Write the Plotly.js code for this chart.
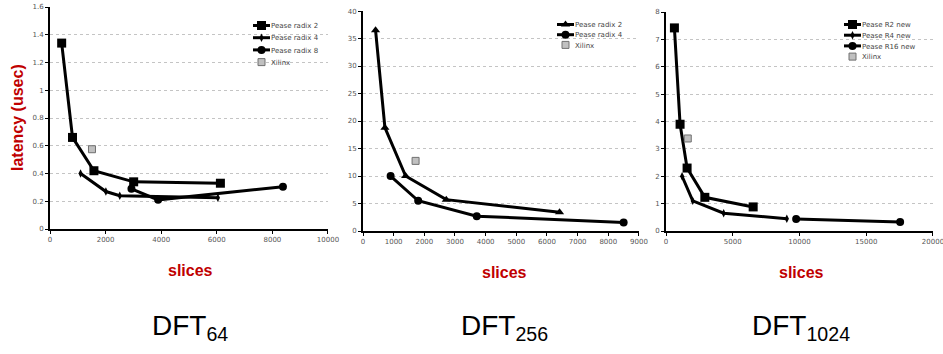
<!DOCTYPE html>
<html><head><meta charset="utf-8">
<script src="https://cdn.plot.ly/plotly-3.0.1.min.js"></script>
<style>html,body{margin:0;padding:0;background:#fff}#chart{width:943px;height:354px}</style>
</head><body><div id="chart"></div>
<script>
// DFT64
const d64_r2_x = [420, 810, 1580, 3010, 6130];
const d64_r2_y = [1.34, 0.66, 0.42, 0.34, 0.33];
const d64_r4_x = [1100, 2010, 2510, 6040];
const d64_r4_y = [0.40, 0.27, 0.24, 0.225];
const d64_r8_x = [2930, 3890, 8380];
const d64_r8_y = [0.29, 0.21, 0.305];
const d64_xil_x = [1510];
const d64_xil_y = [0.575];
// DFT256
const d256_r2_x = [410, 715, 1390, 2715, 6410];
const d256_r2_y = [36.5, 18.8, 10.0, 5.7, 3.4];
const d256_r4_x = [900, 1800, 3710, 8500];
const d256_r4_y = [10.0, 5.5, 2.7, 1.55];
const d256_xil_x = [1715];
const d256_xil_y = [12.75];
// DFT1024
const d1k_r2_x = [630, 1055, 1580, 2910, 6530];
const d1k_r2_y = [7.42, 3.9, 2.3, 1.23, 0.88];
const d1k_r4_x = [1205, 2005, 4320, 9050];
const d1k_r4_y = [2.0, 1.1, 0.65, 0.45];
const d1k_r16_x = [9750, 17540];
const d1k_r16_y = [0.44, 0.33];
const d1k_xil_x = [1630];
const d1k_xil_y = [3.38];

// tick values
const ticks64_x = [0, 2000, 4000, 6000, 8000, 10000];
const ticks256_x = [0, 1000, 2000, 3000, 4000, 5000, 6000, 7000, 8000, 9000];
const ticks1k_x = [0, 5000, 10000, 15000, 20000];

const names64 = ['Pease radix 2', 'Pease radix 4', 'Pease radix 8', 'Xilinx'];
const names256 = ['Pease radix 2', 'Pease radix 4', 'Xilinx'];
const names1k = ['Pease R2 new', 'Pease R4 new', 'Pease R16 new', 'Xilinx'];
const panelTitles = ['DFT<sub>64</sub>', 'DFT<sub>256</sub>', 'DFT<sub>1024</sub>'];

function line(x, y, name, sym, size, xa, ya, lg) {
  return {x, y, name, type: 'scatter', mode: 'lines+markers', xaxis: xa, yaxis: ya, legend: lg,
    line: {color: '#000', width: 3}, marker: {symbol: sym, size: size, color: '#000'}};
}
function xil(x, y, xa, ya, lg) {
  return {x, y, name: 'Xilinx', type: 'scatter', mode: 'markers', xaxis: xa, yaxis: ya, legend: lg,
    marker: {symbol: 'square', size: 7, color: '#c0c0c0', line: {color: '#707070', width: 1}}};
}

const traces = [
  line(d64_r2_x, d64_r2_y, names64[0], 'square', 9, 'x', 'y', 'legend'),
  line(d64_r4_x, d64_r4_y, names64[1], 'diamond-tall', 6, 'x', 'y', 'legend'),
  line(d64_r8_x, d64_r8_y, names64[2], 'circle', 8, 'x', 'y', 'legend'),
  xil(d64_xil_x, d64_xil_y, 'x', 'y', 'legend'),
  line(d256_r2_x, d256_r2_y, names256[0], 'triangle-up', 8, 'x2', 'y2', 'legend2'),
  line(d256_r4_x, d256_r4_y, names256[1], 'circle', 8, 'x2', 'y2', 'legend2'),
  xil(d256_xil_x, d256_xil_y, 'x2', 'y2', 'legend2'),
  line(d1k_r2_x, d1k_r2_y, names1k[0], 'square', 9, 'x3', 'y3', 'legend3'),
  line(d1k_r4_x, d1k_r4_y, names1k[1], 'diamond-tall', 6, 'x3', 'y3', 'legend3'),
  line(d1k_r16_x, d1k_r16_y, names1k[2], 'circle', 8, 'x3', 'y3', 'legend3'),
  xil(d1k_xil_x, d1k_xil_y, 'x3', 'y3', 'legend3')
];

const W = 943, H = 354;
const px = v => v / W, py = v => (H - v) / H;
const tickfont = {family: 'DejaVu Sans', size: 7, color: '#555'};
function xax(l, r, range, tickvals, anchor) {
  return {domain: [px(l), px(r)], range, tickmode: 'array', tickvals, ticktext: tickvals.map(String),
    anchor, showgrid: false, zeroline: false,
    showline: true, linecolor: '#000', linewidth: 2, ticks: 'outside', ticklen: 3, tickcolor: '#000',
    tickfont, ticklabeloverflow: 'allow', fixedrange: true};
}
function yax(b, t, range, dtick, anchor) {
  return {domain: [py(b), py(t)], range, dtick, anchor, showgrid: true, gridcolor: '#c4c4c4', griddash: 'dot',
    gridwidth: 1, zeroline: false, showline: true, linecolor: '#000', linewidth: 2, ticks: 'outside',
    ticklen: 3, tickcolor: '#000', tickfont, ticklabeloverflow: 'allow', fixedrange: true};
}
const legfont = {family: 'DejaVu Sans', size: 7, color: '#444'};
function leg(x, y) {
  return {x: px(x), y: py(y), xanchor: 'left', yanchor: 'top', font: legfont, bgcolor: 'rgba(0,0,0,0)',
    tracegroupgap: 0, itemwidth: 30};
}
const red = '#c00000';
const redFont = {family: 'Liberation Sans', size: 16, color: red, weight: 'bold'};
const bigFont = {family: 'Liberation Sans', size: 28, color: '#000'};
function ann(text, x, y, font, extra) {
  return Object.assign({text, xref: 'paper', yref: 'paper', x: px(x), y: py(y), xanchor: 'center',
    yanchor: 'middle', showarrow: false, font}, extra || {});
}
const layout = {
  width: W, height: H, margin: {l: 0, r: 0, t: 0, b: 0}, paper_bgcolor: '#fff', plot_bgcolor: '#fff',
  showlegend: true,
  xaxis: xax(50, 328, [0, 10001], ticks64_x, 'y'),
  yaxis: yax(229, 7, [0, 1.6001], 0.2, 'x'),
  xaxis2: xax(363, 639, [0, 9001], ticks256_x, 'y2'),
  yaxis2: yax(231, 11, [0, 40.01], 5, 'x2'),
  xaxis3: xax(666, 933, [0, 20002], ticks1k_x, 'y3'),
  yaxis3: yax(231, 12, [0, 8.001], 1, 'x3'),
  legend: leg(231, 11),
  legend2: leg(535, 10),
  legend3: leg(822, 10),
  annotations: [
    ann('latency (usec)', 17, 118, redFont, {textangle: -90}),
    ann('slices', 190, 270, redFont),
    ann('slices', 504, 272, redFont),
    ann('slices', 801, 272, redFont),
    ann(panelTitles[0], 190, 327, bigFont),
    ann(panelTitles[1], 504, 327, bigFont),
    ann(panelTitles[2], 801, 327, bigFont)
  ]
};
const legendSpacing = {legend: 12.2, legend2: 10.2, legend3: 10.7};
Plotly.newPlot('chart', traces, layout, {displayModeBar: false, staticPlot: true}).then(gd => {
  // compact legend rows and short symbol lines, as in the reference
  Object.keys(legendSpacing).forEach(id => {
    const lg = gd.querySelector('.infolayer g.' + id);
    if (!lg) return;
    const items = lg.querySelectorAll('g.traces');
    if (!items.length) return;
    const m = /translate\(([-\d.]+)[ ,]+([-\d.]+)\)/.exec(items[0].getAttribute('transform') || '');
    const x0 = m ? parseFloat(m[1]) : 0;
    const y0 = m ? parseFloat(m[2]) : 9.5;
    items.forEach((it, i) => {
      it.setAttribute('transform', `translate(${x0},${y0 + i * legendSpacing[id]})`);
      it.querySelectorAll('.legendlines path').forEach(p => p.setAttribute('d', 'M22,0h17'));
      it.querySelectorAll('.legendpoints path').forEach(p => p.setAttribute('transform', 'translate(30.5,0)'));
    });
  });
});
</script></body></html>
